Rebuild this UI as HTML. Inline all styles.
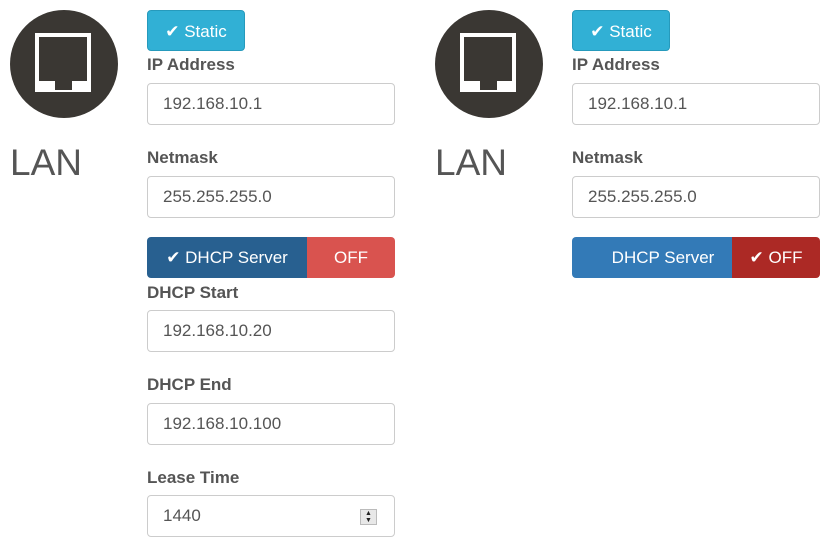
<!DOCTYPE html>
<html><head><style>
body{margin:0;width:840px;height:560px;background:#fff;position:relative;font-family:"Liberation Sans",sans-serif;overflow:hidden}
.a{position:absolute}
.circ{width:108px;height:108px;border-radius:50%;background:#3a3733}
.lan{font-size:37px;color:#555}
.lbl{font-size:17px;font-weight:bold;color:#555}
.inp{border:1px solid #ccc;border-radius:4px;box-sizing:border-box;height:42px;width:248px;font-size:17px;color:#555;padding:0 15px;line-height:40px}
.btn{color:#fff;font-size:17px;text-align:center;box-sizing:border-box;line-height:41px;height:41px}
</style></head><body>
<!-- left -->
<div class="a circ" style="left:10px;top:10px"></div>
<svg class="a" style="left:10px;top:10px" width="108" height="108"><rect x="25" y="23" width="56" height="59" fill="#fff"/><rect x="29" y="27" width="48" height="44" fill="#3a3733"/><rect x="45" y="70" width="17" height="10" fill="#3a3733"/></svg>
<div class="a lan" style="left:10px;top:142px">LAN</div>
<div class="a btn" style="left:147px;top:10px;width:98px;background:#31b0d5;border:1px solid #269abc;border-radius:4px">✔ Static</div>
<div class="a lbl" style="left:147px;top:55px">IP Address</div>
<div class="a inp" style="left:147px;top:83px">192.168.10.1</div>
<div class="a lbl" style="left:147px;top:148px">Netmask</div>
<div class="a inp" style="left:147px;top:176px">255.255.255.0</div>
<div class="a btn" style="left:147px;top:237px;width:160px;background:#286090;border-radius:4px 0 0 4px">✔ DHCP Server</div>
<div class="a btn" style="left:307px;top:237px;width:88px;background:#d9534f;border-radius:0 4px 4px 0">OFF</div>
<div class="a lbl" style="left:147px;top:283px">DHCP Start</div>
<div class="a inp" style="left:147px;top:310px">192.168.10.20</div>
<div class="a lbl" style="left:147px;top:375px">DHCP End</div>
<div class="a inp" style="left:147px;top:403px">192.168.10.100</div>
<div class="a lbl" style="left:147px;top:468px">Lease Time</div>
<div class="a inp" style="left:147px;top:495px">1440</div>
<div class="a" style="left:360px;top:509px;width:17px;height:16px;background:#e8e8e8;border:1px solid #bbb;box-sizing:border-box;font-size:7px;line-height:7px;text-align:center;color:#222">▲<br>▼</div>
<!-- right -->
<div class="a circ" style="left:435px;top:10px"></div>
<svg class="a" style="left:435px;top:10px" width="108" height="108"><rect x="25" y="23" width="56" height="59" fill="#fff"/><rect x="29" y="27" width="48" height="44" fill="#3a3733"/><rect x="45" y="70" width="17" height="10" fill="#3a3733"/></svg>
<div class="a lan" style="left:435px;top:142px">LAN</div>
<div class="a btn" style="left:572px;top:10px;width:98px;background:#31b0d5;border:1px solid #269abc;border-radius:4px">✔ Static</div>
<div class="a lbl" style="left:572px;top:55px">IP Address</div>
<div class="a inp" style="left:572px;top:83px">192.168.10.1</div>
<div class="a lbl" style="left:572px;top:148px">Netmask</div>
<div class="a inp" style="left:572px;top:176px">255.255.255.0</div>
<div class="a btn" style="left:572px;top:237px;width:160px;background:#337ab7;border-radius:4px 0 0 4px;padding-left:22px">DHCP Server</div>
<div class="a btn" style="left:732px;top:237px;width:88px;background:#ac2925;border-radius:0 4px 4px 0">✔ OFF</div>
</body></html>
